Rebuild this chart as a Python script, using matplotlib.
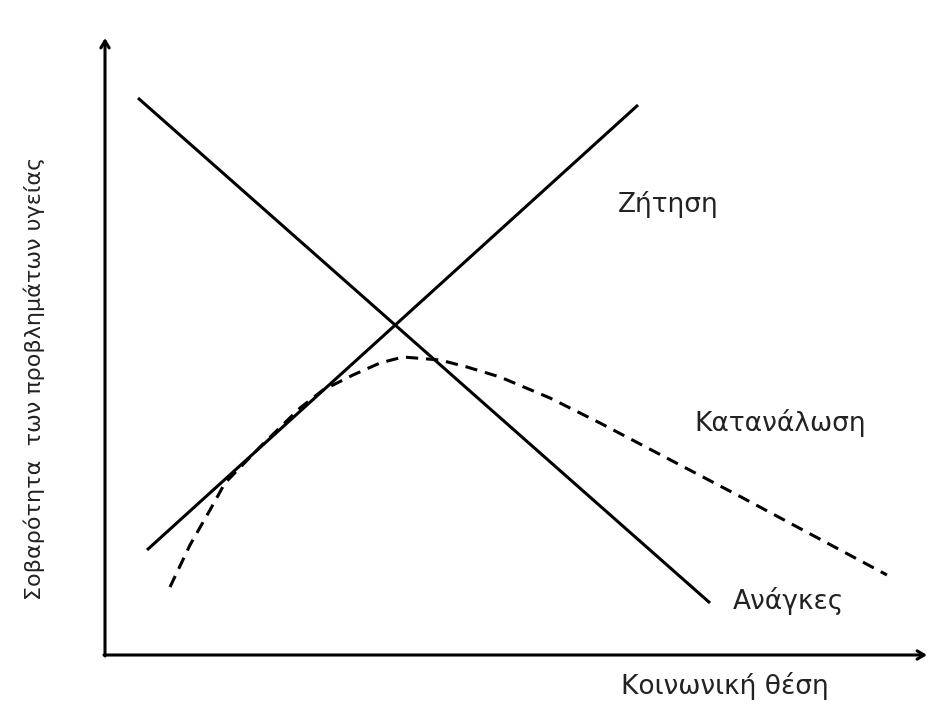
"""Sketch: health problem severity vs social position (needs, demand, consumption)."""

import matplotlib
matplotlib.use("Agg")
import matplotlib.pyplot as plt

# Curves (picture coordinates, y grows downward)
needs_x = [138, 710]
needs_y = [98, 603]

demand_x = [147, 638]
demand_y = [550, 105]

consumption_x = [170, 190, 210, 225, 260, 300, 323, 353, 380, 403, 440, 467, 500, 550, 600, 743, 887]
consumption_y = [587, 545, 510, 483, 447, 408, 390, 375, 363, 357, 360, 367, 377, 398, 423, 498, 575]

labels = {
    "Ζήτηση": (668, 205),
    "Κατανάλωση": (780, 423),
    "Ανάγκες": (788, 601),
}
x_label = "Κοινωνική θέση"
y_label = "Σοβαρότητα  των προβλημάτων υγείας"

fig = plt.figure(figsize=(9.3, 7.05), dpi=100)
ax = fig.add_axes([0, 0, 1, 1])
ax.set_xlim(0, 930)
ax.set_ylim(705, 0)
ax.axis("off")

lw = 2.2
arrow = dict(arrowstyle="->,head_length=0.5,head_width=0.3", lw=lw, color="black",
             shrinkA=0, shrinkB=0)
ax.annotate("", xy=(105, 38), xytext=(105, 656), arrowprops=arrow)
ax.annotate("", xy=(927, 655), xytext=(104, 655), arrowprops=arrow)

ax.plot(needs_x, needs_y, color="black", lw=lw, solid_capstyle="butt")
ax.plot(demand_x, demand_y, color="black", lw=lw, solid_capstyle="butt")
ax.plot(consumption_x, consumption_y, color="black", lw=lw, dashes=(4, 2.6))

for text, (x, y) in labels.items():
    ax.text(x, y, text, fontsize=19, ha="center", va="center", color="#222222")

ax.text(725, 686, x_label, fontsize=19, ha="center", va="center", color="#222222")
ax.text(34, 378, y_label, fontsize=16, ha="center", va="center", rotation=90,
        color="#222222")

fig.savefig("out.png", dpi=100, facecolor="white")
